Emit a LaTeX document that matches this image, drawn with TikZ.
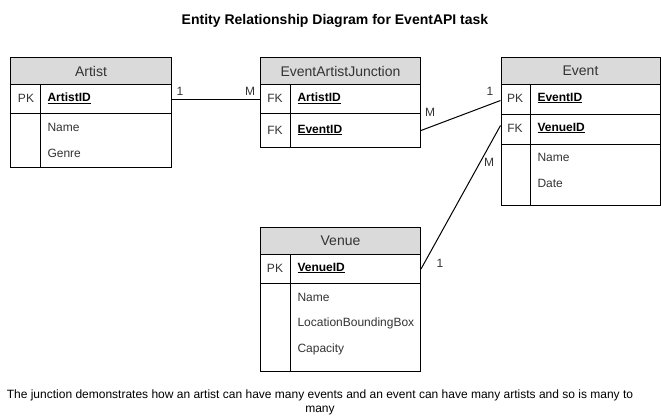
\documentclass[tikz,border=0pt]{standalone}
\usepackage{fontspec}
\setmainfont{Liberation Sans}
\definecolor{hdrgray}{RGB}{218,218,218}
\definecolor{ink}{RGB}{0,0,0}
\definecolor{txtgray}{RGB}{51,51,51}
\begin{document}
\begin{tikzpicture}[x=1pt,y=-1pt,line width=1pt,
  hdr/.style={draw, fill=hdrgray, anchor=north west, inner sep=0pt, text=txtgray, font=\fontsize{14}{16}\selectfont},
  cell/.style={draw, anchor=north west, inner sep=0pt},
  txt/.style={anchor=west, inner sep=0pt, text=txtgray, font=\fontsize{12}{14}\selectfont},
  keytxt/.style={anchor=west, inner sep=0pt, text=ink, font=\fontsize{12}{14}\selectfont\bfseries},
  lbl/.style={inner sep=0pt, text=txtgray, font=\fontsize{12}{14}\selectfont},
  conn/.style={draw, line width=1pt}]
\useasboundingbox (0,0) rectangle (661,418);

% Title
\node[inner sep=0pt, font=\fontsize{14}{16}\selectfont\bfseries] (title) at (335,21) {Entity Relationship Diagram for EventAPI task};

% Artist
\node[hdr, minimum width=161pt, minimum height=27pt] (artist) at (10,57) {Artist};
\node[cell, minimum width=161pt, minimum height=29pt] (artistpk) at (10,84) {};
\node[cell, minimum width=161pt, minimum height=54pt] (artistflds) at (10,113) {};
\draw (40.5,84) -- (40.5,167);
\node[lbl] (a1) at (26,98) {PK};
\node[keytxt] (a2) at (47,98) {\underline{ArtistID}};
\node[txt] (a3) at (47,127) {Name};
\node[txt] (a4) at (47,153) {Genre};

% EventArtistJunction
\node[hdr, minimum width=160pt, minimum height=27pt] (junction) at (260,57) {EventArtistJunction};
\node[cell, minimum width=160pt, minimum height=29pt] (jartist) at (260,84) {};
\node[cell, minimum width=160pt, minimum height=34pt] (jevent) at (260,113) {};
\draw (290.5,84) -- (290.5,147);
\node[lbl] (j1) at (275,98) {FK};
\node[keytxt] (j2) at (297,98) {\underline{ArtistID}};
\node[lbl] (j3) at (275,130) {FK};
\node[keytxt] (j4) at (297,130) {\underline{EventID}};

% Event
\node[hdr, minimum width=159pt, minimum height=27pt] (event) at (500.5,57) {Event};
\node[cell, minimum width=159pt, minimum height=30pt] (eventpk) at (500.5,84) {};
\node[cell, minimum width=159pt, minimum height=30pt] (eventfk) at (500.5,114) {};
\node[cell, minimum width=159pt, minimum height=61pt] (eventflds) at (500.5,144) {};
\draw (530.5,84) -- (530.5,205);
\node[lbl] (e1) at (515,98) {PK};
\node[keytxt] (e2) at (537,98) {\underline{EventID}};
\node[lbl] (e3) at (515,128) {FK};
\node[keytxt] (e4) at (537,128) {\underline{VenueID}};
\node[txt] (e5) at (537,157) {Name};
\node[txt] (e6) at (537,183) {Date};

% Venue
\node[hdr, minimum width=160pt, minimum height=27pt] (venue) at (260,227) {Venue};
\node[cell, minimum width=160pt, minimum height=29pt] (venuepk) at (260,254) {};
\node[cell, minimum width=160pt, minimum height=88pt] (venueflds) at (260,283) {};
\draw (290.5,254) -- (290.5,371);
\node[lbl] (v1) at (275,268) {PK};
\node[keytxt] (v2) at (297,268) {\underline{VenueID}};
\node[txt] (v3) at (297,297) {Name};
\node[txt] (v4) at (297,323) {LocationBoundingBox};
\node[txt] (v5) at (297,349) {Capacity};

% Connectors
\draw[conn] (artistpk.east) -- (jartist.west);
\node[lbl] (c1) at (180,91) {1};
\node[lbl] (c2) at (250,91) {M};

\draw[conn] (jevent.east) -- ([yshift=-1pt]eventpk.west);
\node[lbl] (c3) at (430,112) {M};
\node[lbl] (c4) at (490,91) {1};

\draw[conn] (venuepk.east) -- ([yshift=4pt]eventfk.west);
\node[lbl] (c5) at (489,162) {M};
\node[lbl] (c6) at (440,263) {1};

% Caption
\node[lbl, align=center, text=ink] (caption) at (320,402) {The junction demonstrates how an artist can have many events and an event can have many artists and so is many to\\many};
\end{tikzpicture}
\end{document}
